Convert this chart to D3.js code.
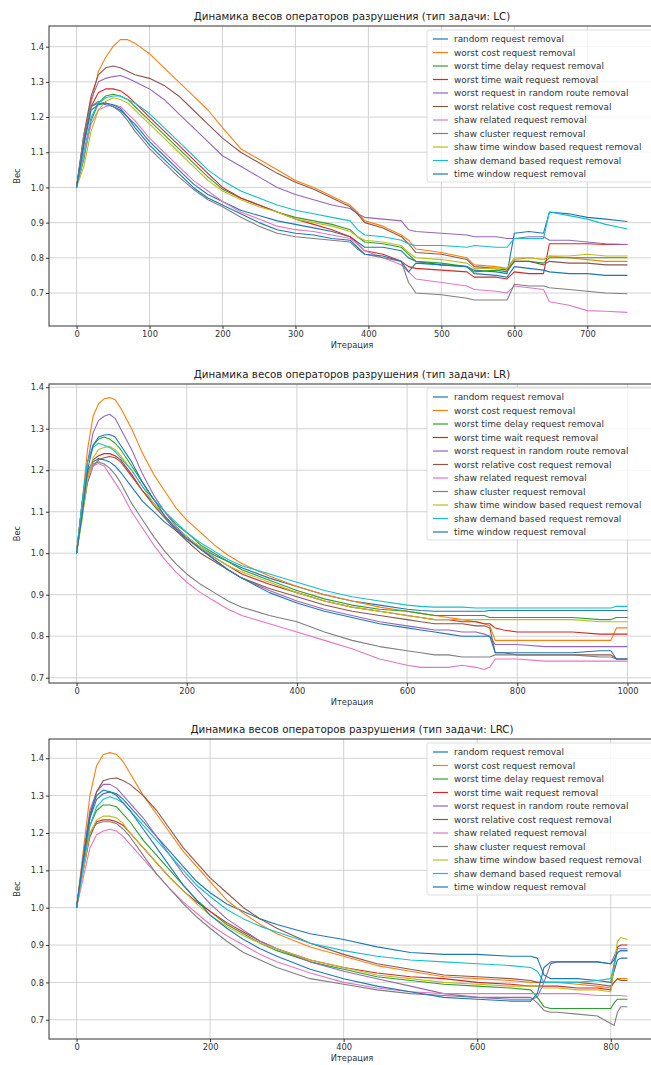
<!DOCTYPE html>
<html><head><meta charset="utf-8">
<script src="https://cdn.jsdelivr.net/npm/d3@7"></script>
<style>body{margin:0;background:#fff}svg{display:block}text{font-family:"DejaVu Sans",sans-serif}</style>
</head><body>
<script>
// ---------- labels / colours ----------
const seriesLabels = ["random request removal","worst cost request removal","worst time delay request removal","worst time wait request removal","worst request in random route removal","worst relative cost request removal","shaw related request removal","shaw cluster request removal","shaw time window based request removal","shaw demand based request removal","time window request removal"];
const seriesColors = ["#1f77b4","#ff7f0e","#2ca02c","#d62728","#9467bd","#8c564b","#e377c2","#7f7f7f","#bcbd22","#17becf","#1f77b4"];
const titles = ["Динамика весов операторов разрушения (тип задачи: LC)","Динамика весов операторов разрушения (тип задачи: LR)","Динамика весов операторов разрушения (тип задачи: LRC)"];
const xTicksLC = [0,100,200,300,400,500,600,700];
const xTicksLR = [0,200,400,600,800,1000];
const xTicksLRC = [0,200,400,600,800];
const yTicks = [0.7,0.8,0.9,1.0,1.1,1.2,1.3,1.4];

// ---------- LC ----------
const itLC = [0,10,20,30,40,50,60,70,80,100,120,140,160,180,200,225,250,275,300,325,350,375,385,395,420,445,455,465,500,535,545,575,590,600,620,640,648,675,700,725,755];
const lcRandom   = [1.00,1.14,1.23,1.24,1.235,1.23,1.22,1.20,1.18,1.13,1.09,1.05,1.01,0.98,0.96,0.935,0.92,0.905,0.895,0.885,0.875,0.86,0.845,0.83,0.83,0.82,0.80,0.79,0.78,0.775,0.765,0.76,0.755,0.87,0.875,0.87,0.93,0.925,0.915,0.91,0.903];
const lcCost     = [1.00,1.12,1.24,1.33,1.37,1.40,1.42,1.42,1.41,1.38,1.34,1.30,1.26,1.22,1.17,1.11,1.08,1.05,1.02,1.00,0.975,0.95,0.93,0.905,0.89,0.865,0.85,0.825,0.815,0.80,0.78,0.775,0.77,0.795,0.80,0.795,0.805,0.80,0.795,0.79,0.79];
const lcDelay    = [1.00,1.08,1.19,1.24,1.26,1.265,1.26,1.25,1.23,1.19,1.15,1.11,1.07,1.03,0.995,0.97,0.95,0.93,0.915,0.905,0.895,0.88,0.86,0.845,0.84,0.83,0.81,0.79,0.785,0.775,0.76,0.765,0.76,0.79,0.79,0.785,0.80,0.80,0.80,0.80,0.80];
const lcWait     = [1.00,1.13,1.23,1.27,1.28,1.28,1.275,1.26,1.24,1.20,1.16,1.12,1.08,1.04,1.00,0.97,0.95,0.93,0.91,0.895,0.88,0.86,0.84,0.82,0.81,0.79,0.775,0.77,0.765,0.76,0.745,0.745,0.74,0.76,0.755,0.755,0.84,0.84,0.84,0.838,0.838];
const lcRoute    = [1.00,1.14,1.25,1.30,1.31,1.315,1.318,1.31,1.30,1.28,1.25,1.21,1.17,1.13,1.09,1.06,1.03,1.00,0.98,0.965,0.95,0.94,0.925,0.915,0.91,0.905,0.88,0.875,0.87,0.865,0.86,0.86,0.855,0.855,0.86,0.86,0.85,0.85,0.845,0.84,0.838];
const lcRelCost  = [1.00,1.15,1.26,1.32,1.34,1.345,1.34,1.33,1.32,1.31,1.29,1.26,1.22,1.18,1.14,1.10,1.07,1.04,1.015,0.995,0.97,0.945,0.925,0.90,0.885,0.86,0.84,0.815,0.81,0.795,0.775,0.77,0.765,0.79,0.79,0.78,0.79,0.785,0.785,0.78,0.78];
const lcRelated  = [1.00,1.09,1.18,1.22,1.23,1.235,1.23,1.21,1.19,1.14,1.10,1.06,1.02,0.99,0.96,0.93,0.91,0.89,0.88,0.875,0.865,0.855,0.84,0.82,0.80,0.78,0.76,0.74,0.73,0.72,0.71,0.705,0.70,0.72,0.715,0.71,0.675,0.665,0.65,0.648,0.645];
const lcCluster  = [1.00,1.15,1.23,1.245,1.24,1.23,1.215,1.19,1.16,1.11,1.07,1.03,0.995,0.965,0.945,0.915,0.89,0.87,0.86,0.855,0.85,0.845,0.825,0.81,0.80,0.79,0.73,0.70,0.695,0.685,0.68,0.68,0.68,0.725,0.72,0.72,0.715,0.71,0.705,0.70,0.698];
const lcTWBased  = [1.00,1.06,1.16,1.22,1.245,1.255,1.25,1.24,1.22,1.18,1.14,1.10,1.06,1.02,0.99,0.965,0.945,0.93,0.91,0.90,0.89,0.875,0.86,0.85,0.845,0.835,0.815,0.80,0.795,0.785,0.77,0.77,0.77,0.80,0.80,0.795,0.805,0.805,0.81,0.805,0.805];
const lcDemand   = [1.00,1.10,1.20,1.24,1.255,1.26,1.26,1.25,1.24,1.21,1.17,1.13,1.09,1.05,1.02,0.99,0.97,0.95,0.935,0.925,0.915,0.905,0.88,0.865,0.86,0.85,0.84,0.835,0.835,0.83,0.835,0.83,0.83,0.855,0.855,0.855,0.93,0.92,0.91,0.895,0.882];
const lcTimeWin  = [1.00,1.12,1.22,1.235,1.24,1.235,1.225,1.20,1.17,1.12,1.08,1.04,1.00,0.97,0.95,0.925,0.90,0.88,0.87,0.865,0.855,0.85,0.83,0.81,0.805,0.79,0.76,0.785,0.78,0.775,0.755,0.75,0.745,0.775,0.77,0.765,0.76,0.755,0.755,0.75,0.75];

// ---------- LR ----------
const itLR = [0,10,20,30,40,50,60,70,80,100,120,140,160,180,200,225,250,275,300,350,400,450,500,550,600,625,650,675,700,725,740,750,760,775,800,850,900,950,970,980,1000];
const lrRandom   = [1.00,1.12,1.20,1.22,1.228,1.225,1.22,1.21,1.195,1.16,1.125,1.10,1.075,1.055,1.035,1.015,0.995,0.98,0.965,0.94,0.92,0.90,0.885,0.875,0.865,0.862,0.86,0.86,0.86,0.86,0.86,0.862,0.862,0.862,0.862,0.862,0.862,0.862,0.862,0.862,0.862];
const lrCost     = [1.00,1.12,1.25,1.33,1.36,1.372,1.375,1.37,1.35,1.30,1.24,1.19,1.15,1.11,1.08,1.05,1.02,0.995,0.975,0.945,0.92,0.90,0.885,0.87,0.86,0.855,0.85,0.845,0.84,0.835,0.83,0.825,0.79,0.79,0.79,0.79,0.79,0.79,0.79,0.82,0.82];
const lrDelay    = [1.00,1.12,1.22,1.26,1.275,1.28,1.275,1.265,1.25,1.21,1.17,1.13,1.10,1.07,1.05,1.02,1.00,0.98,0.96,0.935,0.91,0.89,0.875,0.865,0.86,0.855,0.85,0.85,0.85,0.85,0.85,0.845,0.845,0.845,0.845,0.845,0.845,0.84,0.84,0.845,0.845];
const lrWait     = [1.00,1.10,1.19,1.225,1.235,1.24,1.24,1.235,1.225,1.19,1.15,1.12,1.09,1.06,1.04,1.01,0.99,0.97,0.95,0.925,0.905,0.885,0.87,0.86,0.85,0.845,0.84,0.84,0.835,0.835,0.83,0.83,0.82,0.815,0.81,0.81,0.81,0.805,0.805,0.805,0.805];
const lrRoute    = [1.00,1.10,1.22,1.29,1.32,1.33,1.335,1.325,1.30,1.25,1.19,1.14,1.10,1.065,1.04,1.01,0.985,0.96,0.94,0.91,0.885,0.865,0.85,0.835,0.825,0.82,0.815,0.815,0.81,0.81,0.805,0.80,0.78,0.78,0.78,0.775,0.775,0.775,0.775,0.775,0.775];
const lrRelCost  = [1.00,1.09,1.17,1.21,1.225,1.23,1.233,1.23,1.22,1.185,1.15,1.115,1.085,1.055,1.03,1.00,0.98,0.96,0.94,0.915,0.895,0.875,0.86,0.85,0.84,0.835,0.83,0.83,0.83,0.825,0.825,0.82,0.76,0.76,0.755,0.755,0.755,0.755,0.755,0.745,0.745];
const lrRelated  = [1.00,1.10,1.18,1.21,1.216,1.21,1.19,1.17,1.15,1.10,1.06,1.02,0.985,0.955,0.93,0.905,0.885,0.865,0.85,0.83,0.81,0.79,0.77,0.745,0.73,0.725,0.725,0.725,0.73,0.725,0.72,0.725,0.745,0.745,0.745,0.74,0.74,0.74,0.74,0.74,0.74];
const lrCluster  = [1.00,1.11,1.19,1.215,1.22,1.215,1.205,1.19,1.17,1.12,1.08,1.04,1.005,0.975,0.95,0.925,0.905,0.885,0.87,0.85,0.835,0.81,0.79,0.775,0.765,0.76,0.755,0.755,0.75,0.75,0.75,0.75,0.755,0.755,0.755,0.755,0.755,0.75,0.75,0.745,0.745];
const lrTWBased  = [1.00,1.08,1.18,1.23,1.25,1.255,1.257,1.25,1.235,1.20,1.16,1.12,1.09,1.06,1.04,1.015,0.99,0.97,0.955,0.93,0.905,0.885,0.87,0.86,0.85,0.845,0.84,0.84,0.84,0.84,0.84,0.84,0.84,0.84,0.84,0.84,0.84,0.835,0.835,0.835,0.835];
const lrDemand   = [1.00,1.12,1.22,1.255,1.265,1.26,1.255,1.245,1.23,1.20,1.16,1.13,1.10,1.075,1.05,1.025,1.005,0.985,0.97,0.95,0.93,0.91,0.895,0.885,0.875,0.872,0.87,0.87,0.87,0.868,0.868,0.868,0.868,0.868,0.868,0.868,0.868,0.868,0.868,0.872,0.872];
const lrTimeWin  = [1.00,1.09,1.20,1.26,1.28,1.285,1.286,1.28,1.26,1.22,1.17,1.13,1.09,1.06,1.035,1.01,0.985,0.96,0.94,0.905,0.88,0.86,0.845,0.83,0.82,0.815,0.81,0.805,0.80,0.80,0.80,0.80,0.76,0.76,0.76,0.76,0.76,0.765,0.765,0.745,0.745];

// ---------- LRC ----------
const itLRC = [0,10,20,30,40,50,60,70,80,100,120,140,160,180,200,225,250,275,300,350,400,450,500,550,600,650,680,690,700,710,720,750,780,800,805,810,815,825];
const lrcRandom  = [1.00,1.12,1.24,1.29,1.305,1.31,1.305,1.29,1.27,1.23,1.19,1.15,1.11,1.07,1.04,1.01,0.99,0.97,0.955,0.93,0.915,0.895,0.88,0.875,0.875,0.87,0.87,0.865,0.82,0.81,0.81,0.81,0.805,0.80,0.83,0.86,0.865,0.865];
const lrcCost    = [1.00,1.15,1.30,1.38,1.41,1.415,1.41,1.39,1.36,1.30,1.25,1.20,1.15,1.11,1.07,1.02,0.985,0.955,0.93,0.895,0.87,0.845,0.83,0.815,0.81,0.805,0.80,0.80,0.80,0.80,0.80,0.795,0.79,0.785,0.80,0.81,0.81,0.81];
const lrcDelay   = [1.00,1.12,1.22,1.26,1.275,1.275,1.27,1.25,1.23,1.18,1.14,1.10,1.06,1.02,0.99,0.955,0.93,0.905,0.885,0.855,0.835,0.815,0.805,0.795,0.79,0.785,0.78,0.76,0.735,0.73,0.73,0.73,0.73,0.73,0.745,0.755,0.755,0.755];
const lrcWait    = [1.00,1.10,1.19,1.23,1.235,1.235,1.23,1.22,1.20,1.16,1.12,1.08,1.045,1.015,0.99,0.96,0.935,0.91,0.89,0.86,0.84,0.825,0.815,0.81,0.80,0.795,0.79,0.79,0.79,0.79,0.79,0.785,0.785,0.78,0.84,0.895,0.90,0.90];
const lrcRoute   = [1.00,1.14,1.26,1.31,1.33,1.33,1.32,1.30,1.28,1.24,1.19,1.14,1.09,1.05,1.01,0.97,0.94,0.91,0.89,0.855,0.83,0.81,0.79,0.77,0.76,0.755,0.755,0.76,0.80,0.85,0.855,0.855,0.855,0.85,0.87,0.89,0.89,0.89];
const lrcRelCost = [1.00,1.12,1.24,1.31,1.34,1.345,1.347,1.34,1.33,1.30,1.26,1.21,1.16,1.12,1.08,1.04,1.00,0.97,0.945,0.905,0.875,0.85,0.835,0.82,0.815,0.81,0.805,0.80,0.80,0.80,0.80,0.80,0.795,0.79,0.80,0.81,0.805,0.805];
const lrcRelated = [1.00,1.08,1.16,1.195,1.205,1.21,1.205,1.19,1.17,1.13,1.09,1.05,1.015,0.985,0.955,0.925,0.90,0.875,0.855,0.825,0.80,0.785,0.775,0.77,0.77,0.77,0.77,0.77,0.77,0.77,0.77,0.77,0.765,0.765,0.765,0.765,0.765,0.763];
const lrcCluster = [1.00,1.11,1.20,1.225,1.23,1.23,1.225,1.21,1.19,1.14,1.09,1.05,1.01,0.975,0.945,0.91,0.88,0.86,0.84,0.81,0.795,0.78,0.77,0.765,0.76,0.76,0.76,0.745,0.725,0.72,0.72,0.715,0.71,0.69,0.685,0.72,0.735,0.735];
const lrcTWBased = [1.00,1.10,1.20,1.235,1.245,1.245,1.24,1.225,1.20,1.16,1.12,1.08,1.045,1.01,0.98,0.95,0.925,0.905,0.89,0.86,0.84,0.82,0.81,0.80,0.795,0.79,0.79,0.79,0.785,0.785,0.785,0.78,0.78,0.775,0.85,0.91,0.92,0.915];
const lrcDemand  = [1.00,1.11,1.22,1.27,1.29,1.297,1.29,1.28,1.26,1.22,1.18,1.14,1.10,1.06,1.03,0.995,0.97,0.95,0.935,0.905,0.885,0.87,0.86,0.855,0.85,0.845,0.84,0.83,0.80,0.80,0.80,0.80,0.805,0.81,0.85,0.88,0.885,0.885];
const lrcTimeWin = [1.00,1.13,1.25,1.30,1.315,1.31,1.30,1.28,1.26,1.21,1.16,1.11,1.06,1.02,0.98,0.945,0.915,0.89,0.87,0.835,0.81,0.79,0.775,0.76,0.755,0.75,0.75,0.77,0.84,0.855,0.855,0.855,0.855,0.85,0.86,0.88,0.885,0.885];

const panels = [
  {title: titles[0], it: itLC, xt: xTicksLC, top: 26, bottom: 326,
   series: [lcRandom,lcCost,lcDelay,lcWait,lcRoute,lcRelCost,lcRelated,lcCluster,lcTWBased,lcDemand,lcTimeWin]},
  {title: titles[1], it: itLR, xt: xTicksLR, top: 384, bottom: 683,
   series: [lrRandom,lrCost,lrDelay,lrWait,lrRoute,lrRelCost,lrRelated,lrCluster,lrTWBased,lrDemand,lrTimeWin]},
  {title: titles[2], it: itLRC, xt: xTicksLRC, top: 739, bottom: 1039,
   series: [lrcRandom,lrcCost,lrcDelay,lrcWait,lrcRoute,lrcRelCost,lrcRelated,lrcCluster,lrcTWBased,lrcDemand,lrcTimeWin]}
];

const W = 651, H = 1065, LEFT = 49, RIGHT = 655;
const svg = d3.select("body").append("svg").attr("width", W).attr("height", H);
svg.append("rect").attr("width", W).attr("height", H).attr("fill", "#fff");

panels.forEach((p, pi) => {
  const [x0, x1] = d3.extent(p.it);
  const xp = (x1 - x0) * 0.05;
  const x = d3.scaleLinear().domain([x0 - xp, x1 + xp]).range([LEFT, RIGHT]);
  const all = p.series.flat();
  const [y0, y1] = d3.extent(all);
  const yp = (y1 - y0) * 0.05;
  const y = d3.scaleLinear().domain([y0 - yp, y1 + yp]).range([p.bottom, p.top]);
  const g = svg.append("g");

  const clipId = "clip" + pi;
  g.append("clipPath").attr("id", clipId).append("rect")
    .attr("x", LEFT).attr("y", p.top).attr("width", RIGHT - LEFT).attr("height", p.bottom - p.top);

  // grid
  g.append("g").selectAll("line").data(p.xt).join("line")
    .attr("x1", d => x(d)).attr("x2", d => x(d)).attr("y1", p.top).attr("y2", p.bottom)
    .attr("stroke", "#c8c8c8").attr("stroke-width", 0.8);
  g.append("g").selectAll("line").data(yTicks).join("line")
    .attr("x1", LEFT).attr("x2", RIGHT).attr("y1", d => y(d)).attr("y2", d => y(d))
    .attr("stroke", "#c8c8c8").attr("stroke-width", 0.8);

  // lines
  const line = d3.line().x((d, i) => x(p.it[i])).y(d => y(d));
  g.append("g").attr("clip-path", `url(#${clipId})`).selectAll("path").data(p.series).join("path")
    .attr("d", d => line(d)).attr("fill", "none")
    .attr("stroke", (d, i) => seriesColors[i]).attr("stroke-width", 1.1)
    .attr("stroke-linejoin", "round");

  // axes
  const ax = g.append("g").attr("transform", `translate(0,${p.bottom})`)
    .call(d3.axisBottom(x).tickValues(p.xt).tickFormat(d3.format("d")).tickSize(3).tickPadding(2));
  const ay = g.append("g").attr("transform", `translate(${LEFT},0)`)
    .call(d3.axisLeft(y).tickValues(yTicks).tickFormat(d3.format(".1f")).tickSize(3).tickPadding(2));
  [ax, ay].forEach(a => {
    a.select(".domain").remove();
    a.selectAll("line").attr("stroke", "#333");
    a.selectAll("text").attr("fill", "#333").style("font-size", "8.3px").style("font-family", "DejaVu Sans");
  });
  g.append("rect").attr("x", LEFT).attr("y", p.top).attr("width", RIGHT - LEFT).attr("height", p.bottom - p.top)
    .attr("fill", "none").attr("stroke", "#333").attr("stroke-width", 1);

  // labels
  g.append("text").attr("x", (LEFT + RIGHT) / 2).attr("y", p.top - 6)
    .attr("text-anchor", "middle").style("font-size", "10.3px").attr("fill", "#222").text(p.title);
  g.append("text").attr("x", (LEFT + RIGHT) / 2).attr("y", p.bottom + 22)
    .attr("text-anchor", "middle").style("font-size", "8.3px").attr("fill", "#333").text("Итерация");
  g.append("text").attr("transform", `translate(20,${(p.top + p.bottom) / 2}) rotate(-90)`)
    .attr("text-anchor", "middle").style("font-size", "8.3px").attr("fill", "#333").text("Вес");

  // legend
  const lg = g.append("g").attr("transform", `translate(427,${p.top + 4})`);
  lg.append("rect").attr("width", 226).attr("height", 152).attr("rx", 2)
    .attr("fill", "#fff").attr("fill-opacity", 0.8).attr("stroke", "#d6d6d6").attr("stroke-width", 0.8);
  const rows = lg.selectAll("g.row").data(seriesLabels).join("g").attr("class", "row")
    .attr("transform", (d, i) => `translate(0,${9 + i * 13.5})`);
  rows.append("line").attr("x1", 6).attr("x2", 21).attr("y1", 0).attr("y2", 0)
    .attr("stroke", (d, i) => seriesColors[i]).attr("stroke-width", 1.2);
  rows.append("text").attr("x", 27).attr("y", 0).attr("dy", "0.35em")
    .style("font-size", "8.9px").attr("fill", "#333").text(d => d);
});
</script>
</body></html>
